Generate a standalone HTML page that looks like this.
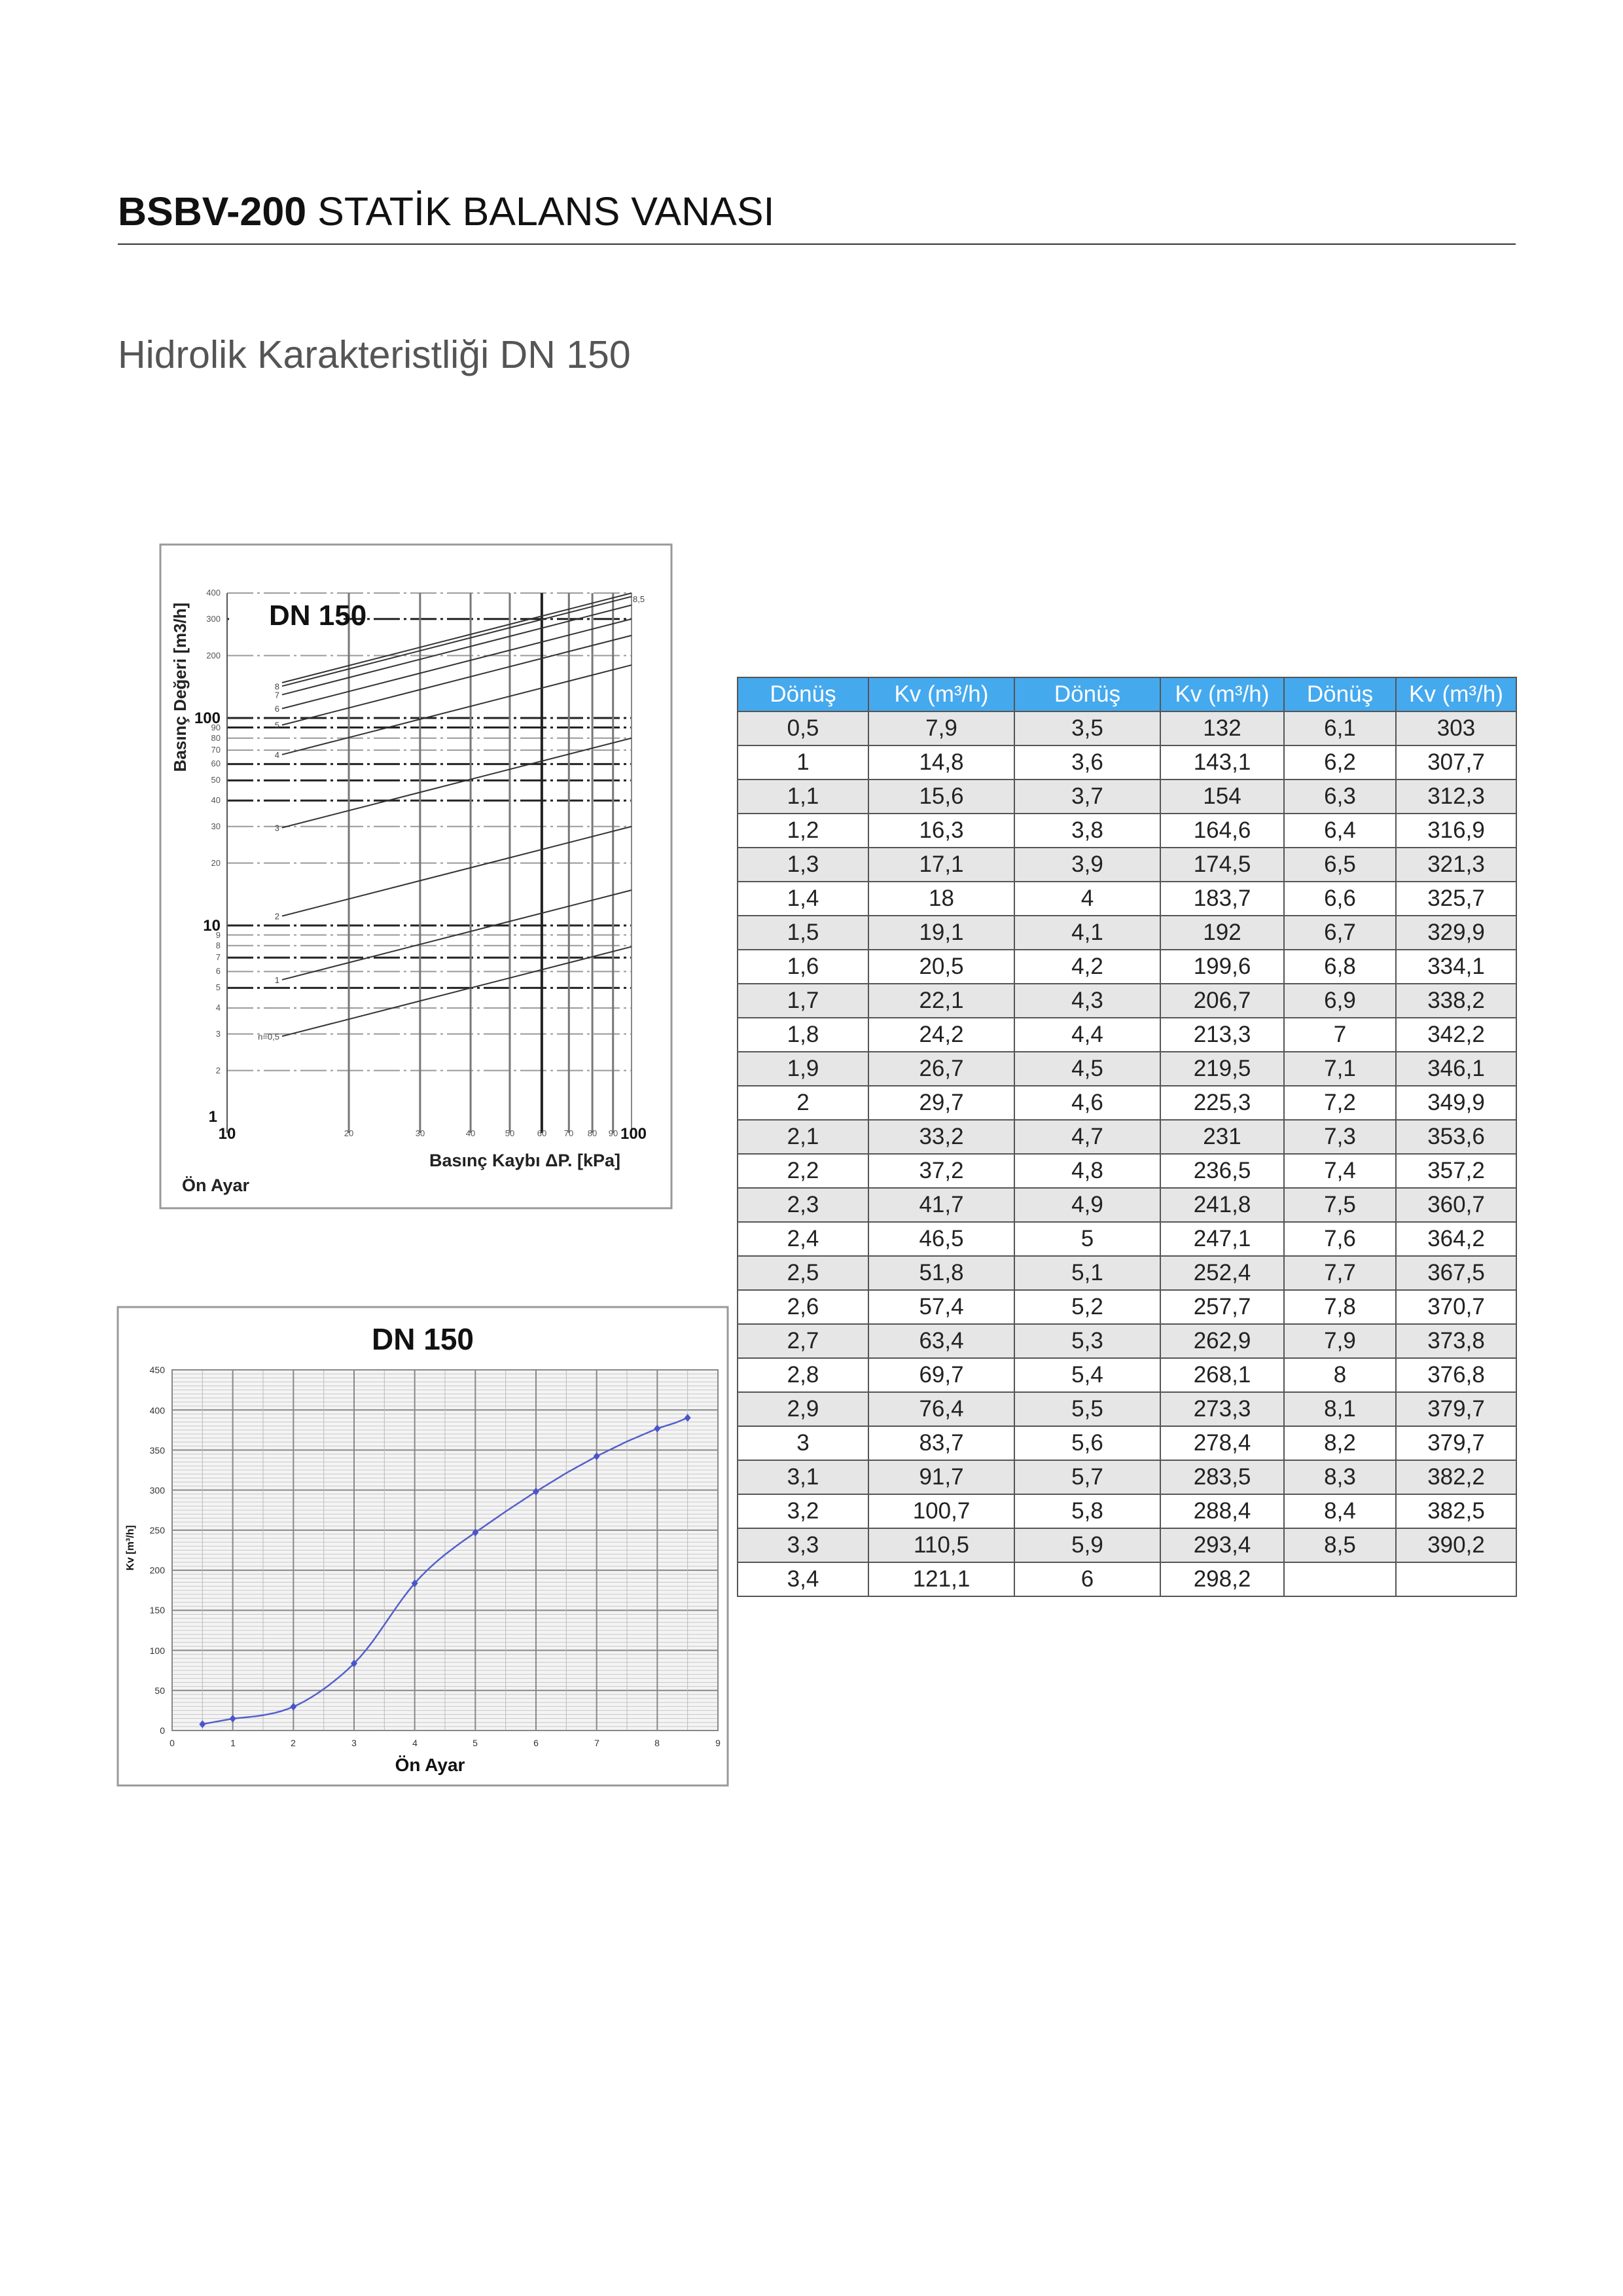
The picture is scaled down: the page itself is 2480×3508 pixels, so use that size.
<!DOCTYPE html>
<html><head><meta charset="utf-8">
<style>
html,body{margin:0;padding:0;background:#fff;}
body{width:2480px;height:3508px;position:relative;overflow:hidden;font-family:"Liberation Sans",sans-serif;}
#svg{position:absolute;left:0;top:0;}
table{position:absolute;left:1126px;top:1034px;width:1190px;table-layout:fixed;border-collapse:collapse;font-family:"Liberation Sans",sans-serif;}
tr{height:52px;}
td,th{border:2px solid #555;padding:0;text-align:center;font-size:35px;color:#222;font-weight:normal;line-height:46px;overflow:hidden;}
th{background:#45a9ee;color:#fff;}
tr:nth-child(even) td{background:#e6e6e6;}
</style></head><body>
<svg id="svg" width="2480" height="3508" xmlns="http://www.w3.org/2000/svg" font-family="Liberation Sans, sans-serif">
<text x="180" y="344" font-size="61" fill="#111"><tspan font-weight="bold">BSBV-200</tspan> STATİK BALANS VANASI</text>
<line x1="180" y1="373" x2="2316" y2="373" stroke="#333" stroke-width="2"/>
<text x="180" y="562" font-size="59" fill="#555">Hidrolik Karakteristliği DN 150</text>

<!-- Chart 1 -->
<rect x="245" y="832" width="781" height="1014" fill="#fff" stroke="#999" stroke-width="3"/>
<g id="c1grid"></g>
<text x="411" y="955" font-size="44" font-weight="bold" fill="#111">DN 150</text>
<text transform="translate(284,1050) rotate(-90)" font-size="26" font-weight="bold" fill="#222" text-anchor="middle">Basınç Değeri [m3/h]</text>
<g font-size="13" fill="#555" text-anchor="end">
<text x="337" y="910">400</text><text x="337" y="950">300</text><text x="337" y="1006">200</text>
<text x="337" y="1105" font-size="24" font-weight="bold" fill="#111">100</text>
<text x="337" y="1116">90</text><text x="337" y="1132">80</text><text x="337" y="1150">70</text><text x="337" y="1171">60</text><text x="337" y="1196">50</text><text x="337" y="1227">40</text><text x="337" y="1267">30</text><text x="337" y="1323">20</text>
<text x="337" y="1422" font-size="24" font-weight="bold" fill="#111">10</text>
<text x="337" y="1433">9</text><text x="337" y="1449">8</text><text x="337" y="1467">7</text><text x="337" y="1488">6</text>
<text x="337" y="1513">5</text><text x="337" y="1544">4</text><text x="337" y="1584">3</text><text x="337" y="1640">2</text>
<text x="332" y="1714" font-size="24" font-weight="bold" fill="#111">1</text>
</g>
<g font-size="13" fill="#555" text-anchor="middle">
<text x="347" y="1740" font-size="24" font-weight="bold" fill="#111">10</text>
<text x="533" y="1736">20</text><text x="642" y="1736">30</text><text x="719" y="1736">40</text><text x="779" y="1736">50</text><text x="828" y="1736">60</text><text x="869" y="1736">70</text><text x="905" y="1736">80</text><text x="937" y="1736">90</text>
<text x="968" y="1740" font-size="24" font-weight="bold" fill="#111">100</text>
</g>
<text x="656" y="1782" font-size="27" font-weight="bold" fill="#222">Basınç Kaybı  ΔP. [kPa]</text>
<text x="278" y="1820" font-size="27" font-weight="bold" fill="#222">Ön Ayar</text>

<!-- Chart 2 -->
<rect x="180" y="1997" width="932" height="731" fill="#fff" stroke="#999" stroke-width="3"/>
<g id="c2grid"></g>
<text x="646" y="2062" font-size="46" font-weight="bold" fill="#111" text-anchor="middle">DN 150</text>
<g font-size="14" fill="#333" text-anchor="end">
<text x="252" y="2098">450</text><text x="252" y="2160">400</text><text x="252" y="2221">350</text><text x="252" y="2282">300</text><text x="252" y="2343">250</text><text x="252" y="2404">200</text><text x="252" y="2465">150</text><text x="252" y="2527">100</text><text x="252" y="2588">50</text><text x="252" y="2649">0</text>
</g>
<g font-size="14" fill="#333" text-anchor="middle">
<text x="263" y="2668">0</text><text x="356" y="2668">1</text><text x="448" y="2668">2</text><text x="541" y="2668">3</text><text x="634" y="2668">4</text><text x="726" y="2668">5</text><text x="819" y="2668">6</text><text x="912" y="2668">7</text><text x="1004" y="2668">8</text><text x="1097" y="2668">9</text>
</g>
<text x="657" y="2706" font-size="28" font-weight="bold" fill="#111" text-anchor="middle">Ön Ayar</text>
<text transform="translate(204,2365) rotate(-90)" font-size="16" font-weight="bold" fill="#111" text-anchor="middle">Kv [m³/h]</text>
</svg>

<table>
<colgroup><col style="width:200px"><col style="width:223px"><col style="width:223px"><col style="width:189px"><col style="width:171px"><col style="width:184px"></colgroup>
<tr><th>Dönüş</th><th>Kv (m³/h)</th><th>Dönüş</th><th>Kv (m³/h)</th><th>Dönüş</th><th>Kv (m³/h)</th></tr>
<tr><td>0,5</td><td>7,9</td><td>3,5</td><td>132</td><td>6,1</td><td>303</td></tr>
<tr><td>1</td><td>14,8</td><td>3,6</td><td>143,1</td><td>6,2</td><td>307,7</td></tr>
<tr><td>1,1</td><td>15,6</td><td>3,7</td><td>154</td><td>6,3</td><td>312,3</td></tr>
<tr><td>1,2</td><td>16,3</td><td>3,8</td><td>164,6</td><td>6,4</td><td>316,9</td></tr>
<tr><td>1,3</td><td>17,1</td><td>3,9</td><td>174,5</td><td>6,5</td><td>321,3</td></tr>
<tr><td>1,4</td><td>18</td><td>4</td><td>183,7</td><td>6,6</td><td>325,7</td></tr>
<tr><td>1,5</td><td>19,1</td><td>4,1</td><td>192</td><td>6,7</td><td>329,9</td></tr>
<tr><td>1,6</td><td>20,5</td><td>4,2</td><td>199,6</td><td>6,8</td><td>334,1</td></tr>
<tr><td>1,7</td><td>22,1</td><td>4,3</td><td>206,7</td><td>6,9</td><td>338,2</td></tr>
<tr><td>1,8</td><td>24,2</td><td>4,4</td><td>213,3</td><td>7</td><td>342,2</td></tr>
<tr><td>1,9</td><td>26,7</td><td>4,5</td><td>219,5</td><td>7,1</td><td>346,1</td></tr>
<tr><td>2</td><td>29,7</td><td>4,6</td><td>225,3</td><td>7,2</td><td>349,9</td></tr>
<tr><td>2,1</td><td>33,2</td><td>4,7</td><td>231</td><td>7,3</td><td>353,6</td></tr>
<tr><td>2,2</td><td>37,2</td><td>4,8</td><td>236,5</td><td>7,4</td><td>357,2</td></tr>
<tr><td>2,3</td><td>41,7</td><td>4,9</td><td>241,8</td><td>7,5</td><td>360,7</td></tr>
<tr><td>2,4</td><td>46,5</td><td>5</td><td>247,1</td><td>7,6</td><td>364,2</td></tr>
<tr><td>2,5</td><td>51,8</td><td>5,1</td><td>252,4</td><td>7,7</td><td>367,5</td></tr>
<tr><td>2,6</td><td>57,4</td><td>5,2</td><td>257,7</td><td>7,8</td><td>370,7</td></tr>
<tr><td>2,7</td><td>63,4</td><td>5,3</td><td>262,9</td><td>7,9</td><td>373,8</td></tr>
<tr><td>2,8</td><td>69,7</td><td>5,4</td><td>268,1</td><td>8</td><td>376,8</td></tr>
<tr><td>2,9</td><td>76,4</td><td>5,5</td><td>273,3</td><td>8,1</td><td>379,7</td></tr>
<tr><td>3</td><td>83,7</td><td>5,6</td><td>278,4</td><td>8,2</td><td>379,7</td></tr>
<tr><td>3,1</td><td>91,7</td><td>5,7</td><td>283,5</td><td>8,3</td><td>382,2</td></tr>
<tr><td>3,2</td><td>100,7</td><td>5,8</td><td>288,4</td><td>8,4</td><td>382,5</td></tr>
<tr><td>3,3</td><td>110,5</td><td>5,9</td><td>293,4</td><td>8,5</td><td>390,2</td></tr>
<tr><td>3,4</td><td>121,1</td><td>6</td><td>298,2</td><td></td><td></td></tr>
</table>

<script>
(function(){
var NS="http://www.w3.org/2000/svg";
function el(p,n,a){var e=document.createElementNS(NS,n);for(var k in a)e.setAttribute(k,a[k]);p.appendChild(e);return e;}
// Chart 1
var g1=document.getElementById('c1grid');
function X1(k){return 347+618*Math.log10(k/10);}
function Y1(v){return 1731-317*Math.log10(v);}
[2,3,4,5,6,7,8,9,10,20,30,40,50,60,70,80,90,100,200,300,400].forEach(function(v){
  var major=(v==10||v==100||v==5||v==7||v==40||v==50||v==60||v==300||v==90);
  el(g1,'line',{x1:347,x2:965,y1:Y1(v),y2:Y1(v),stroke:major?'#222':'#999','stroke-width':major?3:2,'stroke-dasharray':'40,6,4,6'});
});
[20,30,40,50,60,70,80,90].forEach(function(k){
  el(g1,'line',{x1:X1(k),x2:X1(k),y1:Y1(400),y2:1731,stroke:k==60?'#222':'#777','stroke-width':k==60?4:3});
});
el(g1,'line',{x1:347,x2:347,y1:Y1(400),y2:1731,stroke:'#555','stroke-width':2});
el(g1,'line',{x1:965,x2:965,y1:Y1(400),y2:1731,stroke:'#888','stroke-width':2});
el(g1,'rect',{x:350,y:912,width:175,height:50,fill:'#fff'});
var ends=[[7.9,'n=0,5'],[14.8,'1'],[30,'2'],[80,'3'],[180,'4'],[250,'5'],[300,'6'],[350,'7'],[385,'8'],[400,'']];
ends.forEach(function(e){
  var v=e[0];
  el(g1,'line',{x1:431,y1:Y1(v*0.37),x2:965,y2:Y1(v),stroke:'#333','stroke-width':2});
  if(e[1]){var t=el(g1,'text',{x:427,y:Y1(v*0.37)+5,'font-size':13,fill:'#444','text-anchor':'end'});t.textContent=e[1];}
});
var t=el(g1,'text',{x:967,y:920,'font-size':13,fill:'#444'});t.textContent='8,5';
// Chart 2
var g2=document.getElementById('c2grid');
function X2(s){return 263+s*834/9;}
function Y2(v){return 2644-v*551/450;}
el(g2,'rect',{x:263,y:2093,width:834,height:551,fill:'#f4f4f4'});
for(var v=0;v<=450;v+=5){var m=v%50==0;el(g2,'line',{x1:263,x2:1097,y1:Y2(v),y2:Y2(v),stroke:m?'#888':'#c8c8c8','stroke-width':m?2:1});}
for(var s=0;s<=9;s+=0.5){var m=s%1==0;el(g2,'line',{x1:X2(s),x2:X2(s),y1:2093,y2:2644,stroke:m?'#888':'#bbb','stroke-width':m?2:1});}
el(g2,'rect',{x:263,y:2093,width:834,height:551,fill:'none',stroke:'#888','stroke-width':2});
var d=[[0.5,7.9],[1,14.8],[1.1,15.6],[1.2,16.3],[1.3,17.1],[1.4,18],[1.5,19.1],[1.6,20.5],[1.7,22.1],[1.8,24.2],[1.9,26.7],[2,29.7],[2.1,33.2],[2.2,37.2],[2.3,41.7],[2.4,46.5],[2.5,51.8],[2.6,57.4],[2.7,63.4],[2.8,69.7],[2.9,76.4],[3,83.7],[3.1,91.7],[3.2,100.7],[3.3,110.5],[3.4,121.1],[3.5,132],[3.6,143.1],[3.7,154],[3.8,164.6],[3.9,174.5],[4,183.7],[4.1,192],[4.2,199.6],[4.3,206.7],[4.4,213.3],[4.5,219.5],[4.6,225.3],[4.7,231],[4.8,236.5],[4.9,241.8],[5,247.1],[5.5,273.3],[6,298.2],[6.5,321.3],[7,342.2],[7.5,360.7],[8,376.8],[8.3,384],[8.5,390.2]];
el(g2,'polyline',{points:d.map(function(p){return X2(p[0])+','+Y2(p[1]);}).join(' '),fill:'none',stroke:'#5560cc','stroke-width':2.5});
[[0.5,7.9],[1,14.8],[2,29.7],[3,83.7],[4,183.7],[5,247.1],[6,298.2],[7,342.2],[8,376.8],[8.5,390.2]].forEach(function(p){
  var x=X2(p[0]),y=Y2(p[1]);
  el(g2,'polygon',{points:(x)+','+(y-6)+' '+(x+5)+','+y+' '+x+','+(y+6)+' '+(x-5)+','+y,fill:'#4a55cc'});
});
})();
</script>
</body></html>
